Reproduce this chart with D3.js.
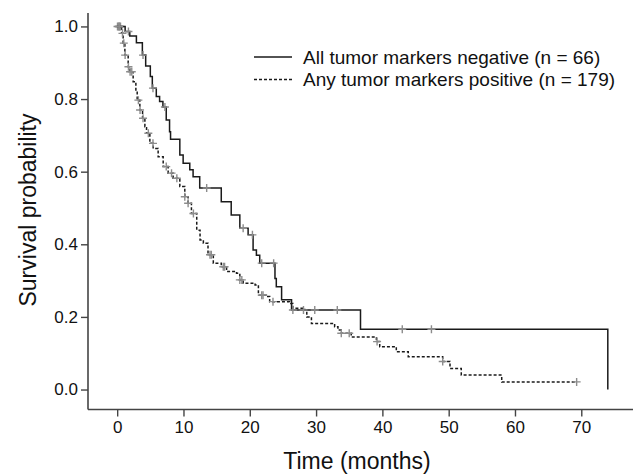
<!DOCTYPE html>
<html>
<head>
<meta charset="utf-8">
<script src="https://cdn.jsdelivr.net/npm/d3@7"></script>
<style>
	body { margin: 0; background: #fff; }
	text { font-family: "Liberation Sans", Arial, sans-serif; fill: #111; }
</style>
</head>
<body>
<div id="chart-area"></div>
<script>

// SVG Size
var width = 635,
	height = 474;

// All tumor markers negative (n = 66): step times (months) and survival after each step
var negTimes = [0, 1.2, 1.9, 2.9, 3.8, 4.3, 5.0, 5.3, 5.9, 6.4, 6.9, 7.4, 7.9, 8.05, 9.45, 9.95, 10.95, 11.45, 12.45, 15.7, 17.2, 18.5, 19.75, 20.5, 21.0, 21.5, 23.8, 24.0, 24.8, 26.3, 36.7, 74.0];
var negSurv  = [1.0, 0.986, 0.974, 0.955, 0.921, 0.891, 0.862, 0.83, 0.807, 0.793, 0.778, 0.742, 0.71, 0.689, 0.646, 0.623, 0.605, 0.586, 0.555, 0.517, 0.481, 0.444, 0.426, 0.384, 0.37, 0.348, 0.306, 0.283, 0.247, 0.219, 0.166, 0.0];
var negCensor = [0.3, 1.7, 3.9, 5.4, 7.2, 13.5, 19.0, 20.4, 21.8, 23.6, 26.5, 28.1, 29.8, 33.2, 43.0, 47.4];

// Any tumor markers positive (n = 179)
var posTimes = [0, 0.66, 0.9, 1.16, 1.66, 1.91, 2.41, 2.82, 3.02, 3.42, 3.83, 4.18, 4.43, 4.93, 5.43, 6.18, 6.94, 7.69, 8.44, 9.45, 10.2, 10.7, 11.2, 12.0, 12.5, 13.0, 13.7, 14.5, 15.7, 16.5, 18.0, 18.5, 19.0, 20.8, 21.3, 22.5, 23.0, 26.0, 26.5, 28.3, 28.6, 29.3, 32.8, 33.3, 33.8, 35.3, 39.1, 39.6, 42.1, 43.9, 49.1, 50.2, 51.9, 58.0, 69.3];
var posSurv  = [1.0, 0.981, 0.954, 0.921, 0.889, 0.875, 0.848, 0.825, 0.797, 0.77, 0.747, 0.724, 0.706, 0.678, 0.664, 0.641, 0.614, 0.596, 0.582, 0.559, 0.531, 0.513, 0.485, 0.439, 0.412, 0.403, 0.371, 0.348, 0.338, 0.325, 0.32, 0.302, 0.293, 0.288, 0.26, 0.256, 0.242, 0.237, 0.224, 0.219, 0.2, 0.182, 0.173, 0.164, 0.155, 0.145, 0.132, 0.118, 0.104, 0.09, 0.077, 0.058, 0.04, 0.021, 0.021];
var posCensor = [0.05, 0.2, 0.35, 0.5, 0.8, 1.0, 1.2, 1.7, 1.95, 2.2, 3.2, 3.45, 3.9, 4.7, 5.4, 7.4, 8.2, 9.0, 10.2, 10.7, 11.5, 14.0, 14.2, 16.0, 16.2, 18.5, 18.8, 21.8, 22.0, 23.5, 33.8, 35.0, 39.2, 49.1, 69.3];

var legendLabels = ["All tumor markers negative (n = 66)", "Any tumor markers positive (n = 179)"];
var xTicks = [0, 10, 20, 30, 40, 50, 60, 70];
var yTicks = [0.0, 0.2, 0.4, 0.6, 0.8, 1.0];

var svg = d3.select("#chart-area").append("svg")
	.attr("width", width)
	.attr("height", height);

// scales (axis runs a bit past 0 and 70 like the original)
var xScale = d3.scaleLinear()
	.domain([-4.4, 77.8])
	.range([88, 633]);
var yScale = d3.scaleLinear()
	.domain([-0.055, 1.037])
	.range([409.5, 13]);

// axes
var xAxis = d3.axisBottom(xScale).tickValues(xTicks).tickSize(7).tickPadding(4)
	.tickFormat(d3.format("d"));
var yAxis = d3.axisLeft(yScale).tickValues(yTicks).tickSize(7).tickPadding(3)
	.tickFormat(d3.format(".1f"));

var gx = svg.append("g")
	.attr("class", "xAxis")
	.attr("transform", "translate(0," + yScale.range()[0] + ")")
	.call(xAxis);
var gy = svg.append("g")
	.attr("class", "yAxis")
	.attr("transform", "translate(" + xScale.range()[0] + ",0)")
	.call(yAxis);

[gx, gy].forEach(function(g){
	g.select(".domain").attr("stroke", "#444").attr("stroke-width", 1.6);
	g.selectAll(".tick line").attr("stroke", "#444").attr("stroke-width", 1.4);
	g.selectAll(".tick text")
		.style("font-family", "'Liberation Sans', Arial, sans-serif")
		.style("font-size", "17px")
		.attr("fill", "#111");
});
// flatten the axis end caps
gx.select(".domain").attr("d", "M" + xScale.range()[0] + ",0H" + xScale.range()[1]);
gy.select(".domain").attr("d", "M0," + yScale.range()[0] + "V" + yScale.range()[1]);

// axis titles
svg.append("text")
	.attr("text-anchor", "middle")
	.attr("x", 357)
	.attr("y", 469)
	.style("font-size", "23px")
	.text("Time (months)");

svg.append("text")
	.attr("text-anchor", "middle")
	.attr("transform", "translate(36,210) rotate(-90)")
	.style("font-size", "23px")
	.text("Survival probability");

// Kaplan-Meier step curves
var makeSteps = function(times, surv) {
	return times.map(function(t, i){ return [t, surv[i]]; });
};
var survAt = function(times, surv, t) {
	var s = surv[0];
	for (var i = 0; i < times.length; i++) {
		if (times[i] <= t) s = surv[i];
	}
	return s;
};

var stepLine = d3.line()
	.x(function(d){ return xScale(d[0]); })
	.y(function(d){ return yScale(d[1]); })
	.curve(d3.curveStepAfter);

var series = [
	{times: posTimes, surv: posSurv, censor: posCensor, dash: "3,2"},
	{times: negTimes, surv: negSurv, censor: negCensor, dash: null}
];

series.forEach(function(s){
	svg.append("path")
		.datum(makeSteps(s.times, s.surv))
		.attr("fill", "none")
		.attr("stroke", "#1a1a1a")
		.attr("stroke-width", 1.5)
		.attr("stroke-dasharray", s.dash)
		.attr("d", stepLine);

	// censor marks
	svg.append("g").selectAll("path")
		.data(s.censor)
		.enter()
		.append("path")
		.attr("fill", "none")
		.attr("stroke", "#8c8c8c")
		.attr("stroke-width", 1.4)
		.attr("d", function(t){
			var cx = xScale(t),
				cy = yScale(survAt(s.times, s.surv, t));
			return "M" + (cx - 4) + "," + cy + "H" + (cx + 4) + "M" + cx + "," + (cy - 4) + "V" + (cy + 4);
		});
});

// legend
var legend = svg.append("g").attr("transform", "translate(254,57)");
legendLabels.forEach(function(label, i){
	legend.append("line")
		.attr("x1", 0).attr("x2", 38)
		.attr("y1", i * 22.5).attr("y2", i * 22.5)
		.attr("stroke", "#1a1a1a")
		.attr("stroke-width", 1.5)
		.attr("stroke-dasharray", i == 1 ? "3,2" : null);
	legend.append("text")
		.attr("x", 49)
		.attr("y", i * 22.5 + 6.5)
		.style("font-size", "19px")
		.text(label);
});

</script>
</body>
</html>
